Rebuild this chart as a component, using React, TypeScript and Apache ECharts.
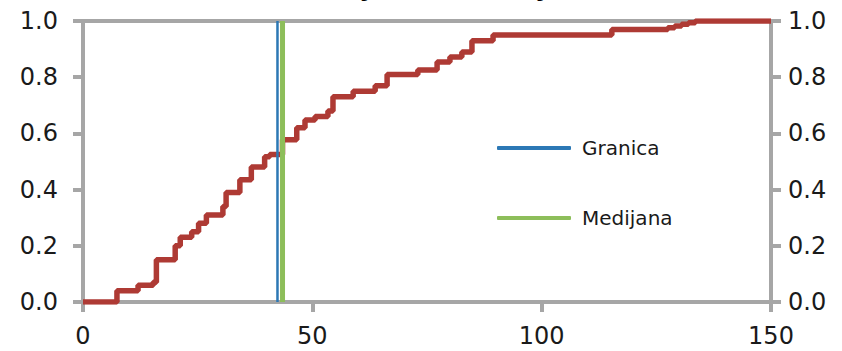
import React, { useEffect, useRef } from "react";
import * as echarts from "echarts";

const titleText = "Funkcija distribucije";
const xTicks = { min: 0, max: 150, interval: 50 };
const yTicks = { min: 0, max: 1, interval: 0.2 };
const cdfX = [0, 7.4, 12, 15.3, 16, 20.1, 21.2, 23.7, 25.2, 26.9, 30.5, 31.2, 34.2, 36.7, 39.6, 40.7, 43.5, 46.6, 48.4, 50.6, 53.4, 54.5, 58.9, 63.7, 66.3, 73, 77.2, 80, 82.6, 84.8, 89.4, 115.3, 127.5, 129, 130.5, 132, 133.5, 150];
const cdfP = [0, 0.04, 0.06, 0.07, 0.15, 0.2, 0.23, 0.25, 0.28, 0.31, 0.34, 0.39, 0.435, 0.48, 0.517, 0.525, 0.577, 0.62, 0.648, 0.66, 0.68, 0.73, 0.75, 0.77, 0.81, 0.826, 0.854, 0.872, 0.89, 0.93, 0.95, 0.97, 0.976, 0.982, 0.988, 0.994, 1.0, 1.0];
const boundaryName = "Granica";
const boundaryX = 42.4;
const medianName = "Medijana";
const medianX = 43.5;

const AXIS = "#A6A6A6";
const FONT = "DejaVu Sans";

export default function App() {
  const ref = useRef<HTMLDivElement>(null);
  useEffect(() => {
    if (!ref.current) return;
    const chart = echarts.init(ref.current, undefined, { renderer: "svg" });
    const axisLine = { show: true, onZero: false, lineStyle: { color: AXIS, width: 4 } };
    const axisTick = { show: true, inside: false, length: 10, lineStyle: { color: AXIS, width: 4 } };
    const label = { color: "#1a1a1a", fontSize: 24, fontFamily: FONT };
    chart.setOption({
      animation: false,
      grid: { left: 83, right: 71, top: 21, bottom: 49, containLabel: false },
      graphic: [
        {
          type: "text",
          left: 260,
          y: -20,
          style: {
            text: titleText,
            font: "37px 'Liberation Serif'",
            fill: "#000",
            verticalAlign: "middle",
          },
        },
      ],
      legend: {
        orient: "vertical",
        left: 497,
        top: 138,
        padding: 0,
        itemGap: 50,
        itemWidth: 74,
        itemHeight: 4,
        icon: "roundRect",
        data: [boundaryName, medianName],
        textStyle: { color: "#1a1a1a", fontSize: 20, fontFamily: FONT, padding: [0, 0, 0, 6] },
      },
      xAxis: [
        {
          type: "value",
          position: "bottom",
          min: xTicks.min,
          max: xTicks.max,
          interval: xTicks.interval,
          axisLine,
          axisTick,
          splitLine: { show: false },
          axisLabel: { ...label, margin: 22 },
        },
        {
          type: "value",
          position: "top",
          min: xTicks.min,
          max: xTicks.max,
          interval: xTicks.interval,
          axisLine,
          axisTick: { show: false },
          splitLine: { show: false },
          axisLabel: { show: false },
        },
      ],
      yAxis: [
        {
          type: "value",
          position: "left",
          min: yTicks.min,
          max: yTicks.max,
          interval: yTicks.interval,
          axisLine,
          axisTick,
          splitLine: { show: false },
          axisLabel: { ...label, margin: 25, formatter: (v: number) => v.toFixed(1) },
        },
        {
          type: "value",
          position: "right",
          min: yTicks.min,
          max: yTicks.max,
          interval: yTicks.interval,
          axisLine,
          axisTick,
          splitLine: { show: false },
          axisLabel: { ...label, margin: 17, formatter: (v: number) => v.toFixed(1) },
        },
      ],
      series: [
        {
          type: "line",
          name: "CDF",
          step: "end",
          showSymbol: false,
          lineStyle: { color: "#AE3A34", width: 5.5 },
          data: cdfX.map((x, i) => [x, cdfP[i]]),
          z: 3,
        },
        {
          type: "line",
          name: medianName,
          showSymbol: false,
          color: "#8DBE5A",
          lineStyle: { color: "#8DBE5A", width: 5 },
          data: [
            [medianX, yTicks.min],
            [medianX, yTicks.max],
          ],
          z: 4,
        },
        {
          type: "line",
          name: boundaryName,
          showSymbol: false,
          color: "#2C78B5",
          lineStyle: { color: "#2C78B5", width: 2.5 },
          data: [
            [boundaryX, yTicks.min],
            [boundaryX, yTicks.max],
          ],
          z: 5,
        },
      ],
    });
    return () => chart.dispose();
  }, []);
  return (
    <div
      ref={ref}
      style={{ position: "fixed", left: 0, top: 0, width: 842, height: 351, background: "#fff" }}
    />
  );
}
